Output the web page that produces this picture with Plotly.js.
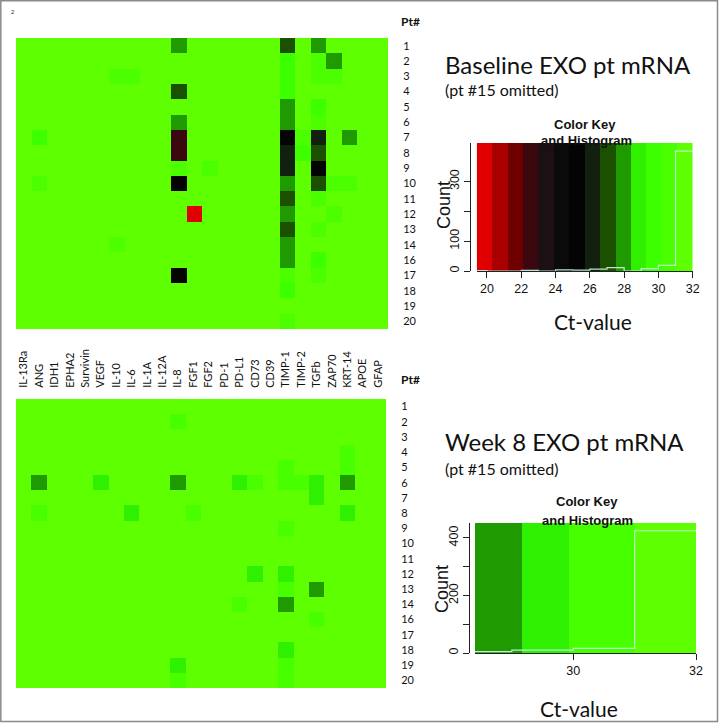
<!DOCTYPE html>
<html>
<head>
<meta charset="utf-8">
<script src="https://cdn.plot.ly/plotly-3.0.1.min.js"></script>
<style>html,body{margin:0;padding:0;background:#fff;}#chart{width:719px;height:724px;}</style>
</head>
<body>
<div id="chart"></div>
<script>
// ---------- data ----------
const genes = ["IL-13Ra","ANG","IDH1","EPHA2","Survivin","VEGF","IL-10","IL-6","IL-1A","IL-12A","IL-8","FGF1","FGF2","PD-1","PD-L1","CD73","CD39","TIMP-1","TIMP-2","TGFb","ZAP70","KRT-14","APOE","GFAP"];
const patients = ["1","2","3","4","5","6","7","8","9","10","11","12","13","14","16","17","18","19","20"];

// Baseline Ct-values (rows = patients, cols = genes)
const baselineCt = [
 [31.6,31.6,31.6,31.6, 31.6,31.6,31.6,31.6, 31.6,31.6,28.0,31.6, 31.6,31.6,31.6,31.6, 31.6,27.0,31.6,28.0, 31.6,31.6,31.6,31.6],
 [31.6,31.6,31.6,31.6, 31.6,31.6,31.6,31.6, 31.6,31.6,31.6,31.6, 31.6,31.6,31.6,31.6, 31.6,29.8,31.6,30.6, 28.0,31.6,31.6,31.6],
 [31.6,31.6,31.6,31.6, 31.6,31.6,30.6,30.6, 31.6,31.6,31.6,31.6, 31.6,31.6,31.6,31.6, 31.6,29.8,31.6,30.6, 30.6,31.6,31.6,31.6],
 [31.6,31.6,31.6,31.6, 31.6,31.6,31.6,31.6, 31.6,31.6,27.0,31.6, 31.6,31.6,31.6,31.6, 31.6,29.8,31.6,31.6, 31.6,31.6,31.6,31.6],
 [31.6,31.6,31.6,31.6, 31.6,31.6,31.6,31.6, 31.6,31.6,31.6,31.6, 31.6,31.6,31.6,31.6, 31.6,28.0,31.6,29.8, 31.6,31.6,31.6,31.6],
 [31.6,31.6,31.6,31.6, 31.6,31.6,31.6,31.6, 31.6,31.6,28.0,31.6, 31.6,31.6,31.6,31.6, 31.6,28.0,31.6,30.6, 31.6,31.6,31.6,31.6],
 [31.6,29.8,31.6,31.6, 31.6,31.6,31.6,31.6, 31.6,31.6,22.5,31.6, 31.6,31.6,31.6,31.6, 31.6,25.0,30.6,26.0, 31.6,28.0,31.6,31.6],
 [31.6,31.6,31.6,31.6, 31.6,31.6,31.6,31.6, 31.6,31.6,22.5,31.6, 31.6,31.6,31.6,31.6, 31.6,26.0,29.8,27.0, 31.6,31.6,31.6,31.6],
 [31.6,31.6,31.6,31.6, 31.6,31.6,31.6,31.6, 31.6,31.6,30.6,31.6, 30.6,31.6,31.6,31.6, 31.6,26.0,31.6,25.0, 31.6,31.6,31.6,31.6],
 [31.6,30.6,31.6,31.6, 31.6,31.6,31.6,31.6, 31.6,31.6,25.0,31.6, 31.6,31.6,31.6,31.6, 31.6,28.0,31.6,27.0, 30.6,30.6,31.6,31.6],
 [31.6,31.6,31.6,31.6, 31.6,31.6,31.6,31.6, 31.6,31.6,31.6,31.6, 31.6,31.6,31.6,31.6, 31.6,27.0,31.6,30.6, 31.6,31.6,31.6,31.6],
 [31.6,31.6,31.6,31.6, 31.6,31.6,31.6,31.6, 31.6,31.6,31.6,20.0, 31.6,31.6,31.6,31.6, 31.6,28.0,31.6,31.6, 30.6,31.6,31.6,31.6],
 [31.6,31.6,31.6,31.6, 31.6,31.6,31.6,31.6, 31.6,31.6,31.6,31.6, 31.6,31.6,31.6,31.6, 31.6,27.0,31.6,30.6, 31.6,31.6,31.6,31.6],
 [31.6,31.6,31.6,31.6, 31.6,31.6,30.6,31.6, 31.6,31.6,31.6,31.6, 31.6,31.6,31.6,31.6, 31.6,28.0,31.6,31.6, 31.6,31.6,31.6,31.6],
 [31.6,31.6,31.6,31.6, 31.6,31.6,31.6,31.6, 31.6,31.6,31.6,31.6, 31.6,31.6,31.6,31.6, 31.6,28.0,31.6,29.8, 31.6,31.6,31.6,31.6],
 [31.6,31.6,31.6,31.6, 31.6,31.6,31.6,31.6, 31.6,31.6,25.0,31.6, 31.6,31.6,31.6,31.6, 31.6,30.6,31.6,30.6, 31.6,31.6,31.6,31.6],
 [31.6,31.6,31.6,31.6, 31.6,31.6,31.6,31.6, 31.6,31.6,31.6,31.6, 31.6,31.6,31.6,31.6, 31.6,29.8,31.6,31.6, 31.6,31.6,31.6,31.6],
 [31.6,31.6,31.6,31.6, 31.6,31.6,31.6,31.6, 31.6,31.6,31.6,31.6, 31.6,31.6,31.6,31.6, 31.6,31.6,31.6,31.6, 31.6,31.6,31.6,31.6],
 [31.6,31.6,31.6,31.6, 31.6,31.6,31.6,31.6, 31.6,31.6,31.6,31.6, 31.6,31.6,31.6,31.6, 31.6,30.6,31.6,31.6, 31.6,31.6,31.6,31.6]
];

// Week 8 Ct-values
const week8Ct = [
 [31.6,31.6,31.6,31.6, 31.6,31.6,31.6,31.6, 31.6,31.6,31.6,31.6, 31.6,31.6,31.6,31.6, 31.6,31.6,31.6,31.6, 31.6,31.6,31.6,31.6],
 [31.6,31.6,31.6,31.6, 31.6,31.6,31.6,31.6, 31.6,31.6,30.5,31.6, 31.6,31.6,31.6,31.6, 31.6,31.6,31.6,31.6, 31.6,31.6,31.6,31.6],
 [31.6,31.6,31.6,31.6, 31.6,31.6,31.6,31.6, 31.6,31.6,31.6,31.6, 31.6,31.6,31.6,31.6, 31.6,31.6,31.6,31.6, 31.6,31.6,31.6,31.6],
 [31.6,31.6,31.6,31.6, 31.6,31.6,31.6,31.6, 31.6,31.6,31.6,31.6, 31.6,31.6,31.6,31.6, 31.6,31.6,31.6,31.6, 31.6,30.5,31.6,31.6],
 [31.6,31.6,31.6,31.6, 31.6,31.6,31.6,31.6, 31.6,31.6,31.6,31.6, 31.6,31.6,31.6,31.6, 31.6,30.5,31.6,31.6, 31.6,30.5,31.6,31.6],
 [31.6,28.8,31.6,31.6, 31.6,29.5,31.6,31.6, 31.6,31.6,28.8,31.6, 31.6,31.6,29.5,30.5, 31.6,30.5,30.5,29.5, 31.6,28.8,31.6,31.6],
 [31.6,31.6,31.6,31.6, 31.6,31.6,31.6,31.6, 31.6,31.6,31.6,31.6, 31.6,31.6,31.6,31.6, 31.6,31.6,31.6,29.5, 31.6,31.6,31.6,31.6],
 [31.6,30.5,31.6,31.6, 31.6,31.6,31.6,29.5, 31.6,31.6,31.6,30.5, 31.6,31.6,31.6,31.6, 31.6,31.6,31.6,31.6, 31.6,29.5,31.6,31.6],
 [31.6,31.6,31.6,31.6, 31.6,31.6,31.6,31.6, 31.6,31.6,31.6,31.6, 31.6,31.6,31.6,31.6, 31.6,30.5,31.6,31.6, 31.6,31.6,31.6,31.6],
 [31.6,31.6,31.6,31.6, 31.6,31.6,31.6,31.6, 31.6,31.6,31.6,31.6, 31.6,31.6,31.6,31.6, 31.6,31.6,31.6,31.6, 31.6,31.6,31.6,31.6],
 [31.6,31.6,31.6,31.6, 31.6,31.6,31.6,31.6, 31.6,31.6,31.6,31.6, 31.6,31.6,31.6,31.6, 31.6,31.6,31.6,31.6, 31.6,31.6,31.6,31.6],
 [31.6,31.6,31.6,31.6, 31.6,31.6,31.6,31.6, 31.6,31.6,31.6,31.6, 31.6,31.6,31.6,29.5, 31.6,29.5,31.6,31.6, 31.6,31.6,31.6,31.6],
 [31.6,31.6,31.6,31.6, 31.6,31.6,31.6,31.6, 31.6,31.6,31.6,31.6, 31.6,31.6,31.6,31.6, 31.6,30.5,31.6,28.8, 31.6,31.6,31.6,31.6],
 [31.6,31.6,31.6,31.6, 31.6,31.6,31.6,31.6, 31.6,31.6,31.6,31.6, 31.6,31.6,30.5,31.6, 31.6,28.8,31.6,31.6, 31.6,31.6,31.6,31.6],
 [31.6,31.6,31.6,31.6, 31.6,31.6,31.6,31.6, 31.6,31.6,31.6,31.6, 31.6,31.6,31.6,31.6, 31.6,31.6,31.6,30.5, 31.6,31.6,31.6,31.6],
 [31.6,31.6,31.6,31.6, 31.6,31.6,31.6,31.6, 31.6,31.6,31.6,31.6, 31.6,31.6,31.6,31.6, 31.6,31.6,31.6,31.6, 31.6,31.6,31.6,31.6],
 [31.6,31.6,31.6,31.6, 31.6,31.6,31.6,31.6, 31.6,31.6,31.6,31.6, 31.6,31.6,31.6,31.6, 31.6,29.5,31.6,31.6, 31.6,31.6,31.6,31.6],
 [31.6,31.6,31.6,31.6, 31.6,31.6,31.6,31.6, 31.6,31.6,29.5,31.6, 31.6,31.6,31.6,31.6, 31.6,30.5,31.6,31.6, 31.6,31.6,31.6,31.6],
 [31.6,31.6,31.6,31.6, 31.6,31.6,31.6,31.6, 31.6,31.6,30.5,31.6, 31.6,31.6,31.6,31.6, 31.6,30.5,31.6,31.6, 31.6,31.6,31.6,31.6]
];

// colour key breaks and colours
const baselineBreaks = [19.4,20.3,21.2,22.1,23.0,23.9,24.8,25.7,26.6,27.5,28.4,29.3,30.2,31.1,32.0];
const baselineColors = ["#e00000","#a80000","#700000","#3c0810","#1c1014","#0a0a0a","#040404","#122010","#1a5000","#1f9a00","#30f000","#3cff00","#4cff00","#5eff00"];
const week8Breaks = [28.4,29.17,29.93,31.0,32.0];
const week8Colors = ["#1f9a00","#2ef000","#48ff00","#5eff00"];
// histogram bin edges
const baselineHistEdges = [19,20,21,22,23,24,25,26,27,28,29,30,31,32];
const week8HistEdges = [28,29,30,31,32];
const baselineXTicks = [20,22,24,26,28,30,32];
const week8XTicks = [30,32];

// ---------- helpers ----------
const W = 719, H = 724;
const dx = (a,b) => [a/W, b/W];
const dy = (top,bottom) => [1-bottom/H, 1-top/H];
function stepScale(br, cols){
  const lo = br[0], hi = br[br.length-1], s = [];
  cols.forEach((c,i)=>{ s.push([(br[i]-lo)/(hi-lo), c]); s.push([(br[i+1]-lo)/(hi-lo), c]); });
  s[0][0] = 0; s[s.length-1][0] = 1;
  return s;
}
function histCounts(mat, edges){
  const n = new Array(edges.length-1).fill(0);
  mat.forEach(r => r.forEach(v => {
    for (let i=0;i<edges.length-1;i++){
      if ((v>edges[i] || (i===0 && v===edges[0])) && v<=edges[i+1]) { n[i]++; break; }
    }
  }));
  return n;
}
function mids(br){ const m=[]; for(let i=0;i<br.length-1;i++) m.push((br[i]+br[i+1])/2); return m; }

const scaleTop = stepScale(baselineBreaks, baselineColors);
const scaleBot = stepScale(week8Breaks, week8Colors);
const hTop = histCounts(baselineCt, baselineHistEdges);
const hBot = histCounts(week8Ct, week8HistEdges);
const topYMax = 429, botYMax = 452;

const lato = "Lato, Carlito, 'Open Sans', sans-serif";
const arial = "'Liberation Sans', Arial, sans-serif";
const histLine = {color:"rgba(200,250,235,0.9)", width:1.2, shape:"hv"};

const traces = [
  {type:"heatmap", z:baselineCt, x:genes, y:patients, xaxis:"x", yaxis:"y",
   colorscale:scaleTop, zmin:baselineBreaks[0], zmax:baselineBreaks[baselineBreaks.length-1],
   showscale:false, hoverinfo:"skip"},
  {type:"heatmap", z:week8Ct, x:genes, y:patients, xaxis:"x2", yaxis:"y2",
   colorscale:scaleBot, zmin:week8Breaks[0], zmax:week8Breaks[week8Breaks.length-1],
   showscale:false, hoverinfo:"skip"},
  {type:"heatmap", z:[mids(baselineBreaks)], x:baselineBreaks, y:[0, topYMax], xaxis:"x3", yaxis:"y3",
   colorscale:scaleTop, zmin:baselineBreaks[0], zmax:baselineBreaks[baselineBreaks.length-1],
   showscale:false, hoverinfo:"skip"},
  {type:"scatter", mode:"lines", x:baselineHistEdges, y:hTop.concat([hTop[hTop.length-1]]),
   xaxis:"x3", yaxis:"y3", line:histLine, hoverinfo:"skip", showlegend:false},
  {type:"heatmap", z:[mids(week8Breaks)], x:week8Breaks, y:[0, botYMax], xaxis:"x4", yaxis:"y4",
   colorscale:scaleBot, zmin:week8Breaks[0], zmax:week8Breaks[week8Breaks.length-1],
   showscale:false, hoverinfo:"skip"},
  {type:"scatter", mode:"lines", x:week8HistEdges, y:hBot.concat([hBot[hBot.length-1]]),
   xaxis:"x4", yaxis:"y4", line:histLine, hoverinfo:"skip", showlegend:false}
];

const hmY = (dom, anchor) => ({domain:dom, anchor:anchor, type:"category", autorange:"reversed", side:"right",
  showgrid:false, zeroline:false, ticks:"outside", ticklen:12, tickcolor:"rgba(0,0,0,0)",
  tickfont:{family:lato, size:11, color:"#111"}});
const keyX = (dom, anchor, rng, tv) => ({domain:dom, anchor:anchor, range:rng, showgrid:false, zeroline:false,
  showline:true, linecolor:"#222", linewidth:1, ticks:"outside", ticklen:6, tickcolor:"#222",
  tickvals:tv, ticktext:tv.map(String), tickfont:{family:arial, size:12.5, color:"#111"}});
const keyY = (dom, anchor, pos, rng, tv, tt) => ({domain:dom, anchor:"free", overlaying:undefined, position:pos, range:rng,
  showgrid:false, zeroline:false, showline:true, linecolor:"#222", linewidth:1, ticks:"outside", ticklen:6,
  tickcolor:"#222", tickvals:tv, ticktext:tt, tickangle:-90, tickfont:{family:arial, size:12.5, color:"#111"}});

const ann = (x,y,text,size,opts) => Object.assign({xref:"paper", yref:"paper", x:x/W, y:1-y/H, text:text,
  showarrow:false, xanchor:"left", yanchor:"middle", font:{family:lato, size:size, color:"#111"}}, opts||{});

const layout = {
  width:W, height:H, margin:{l:0,r:0,t:0,b:0}, paper_bgcolor:"#fff", plot_bgcolor:"#fff", showlegend:false,
  xaxis:{domain:dx(16,388), anchor:"y", type:"category", showticklabels:false, ticks:"", showgrid:false, zeroline:false},
  yaxis:hmY(dy(38,329), "x"),
  xaxis2:{domain:dx(16,386), anchor:"y2", type:"category", side:"top", showgrid:false, zeroline:false,
    ticks:"outside", ticklen:8, tickcolor:"rgba(0,0,0,0)", tickangle:-90, tickfont:{family:lato, size:11, color:"#111"}},
  yaxis2:hmY(dy(399,688), "x2"),
  xaxis3:keyX(dx(476.7,692.7), "y3", [baselineBreaks[0], 32.0], baselineXTicks),
  yaxis3:keyY(dy(143,271), "x3", 470/W, [0, topYMax], [0,100,200,300], ["0","100","","300"]),
  xaxis4:keyX(dx(475,696), "y4", [week8Breaks[0], 32.0], week8XTicks),
  yaxis4:keyY(dy(523,653), "x4", 469.3/W, [0, botYMax], [0,100,200,300,400], ["0","","200","","400"]),
  annotations:[
    ann(9,12,"2",6,{font:{family:arial,size:6,color:"#333"}}),
    ann(399,21,"<b>Pt#</b>",12),
    ann(399,379,"<b>Pt#</b>",12),
    ann(443,64,"Baseline EXO pt mRNA",24),
    ann(443,90,"(pt #15 omitted)",16),
    ann(443,441,"Week 8 EXO pt mRNA",24),
    ann(443,468,"(pt #15 omitted)",16),
    ann(585,124,"<b>Color Key</b>",13,{xanchor:"center",font:{family:arial,size:13,color:"#111"}}),
    ann(586,140,"<b>and Histogram</b>",13,{xanchor:"center",font:{family:arial,size:13,color:"#111"}}),
    ann(587,501,"<b>Color Key</b>",13,{xanchor:"center",font:{family:arial,size:13,color:"#111"}}),
    ann(587,520,"<b>and Histogram</b>",13,{xanchor:"center",font:{family:arial,size:13,color:"#111"}}),
    ann(444,205,"Count",18,{xanchor:"center",textangle:-90,font:{family:arial,size:18,color:"#111"}}),
    ann(442,589,"Count",18,{xanchor:"center",textangle:-90,font:{family:arial,size:18,color:"#111"}}),
    ann(593,322,"Ct-value",21,{xanchor:"center"}),
    ann(579,708,"Ct-value",21,{xanchor:"center"})
  ],
  shapes:[
    {type:"rect", xref:"paper", yref:"paper", x0:0.8/W, x1:717.5/W, y0:1-721.5/H, y1:1-0.8/H,
     line:{color:"#8a8a8a", width:1.5}, fillcolor:"rgba(0,0,0,0)"}
  ]
};

Plotly.newPlot("chart", traces, layout, {staticPlot:true, displayModeBar:false});
</script>
</body>
</html>
